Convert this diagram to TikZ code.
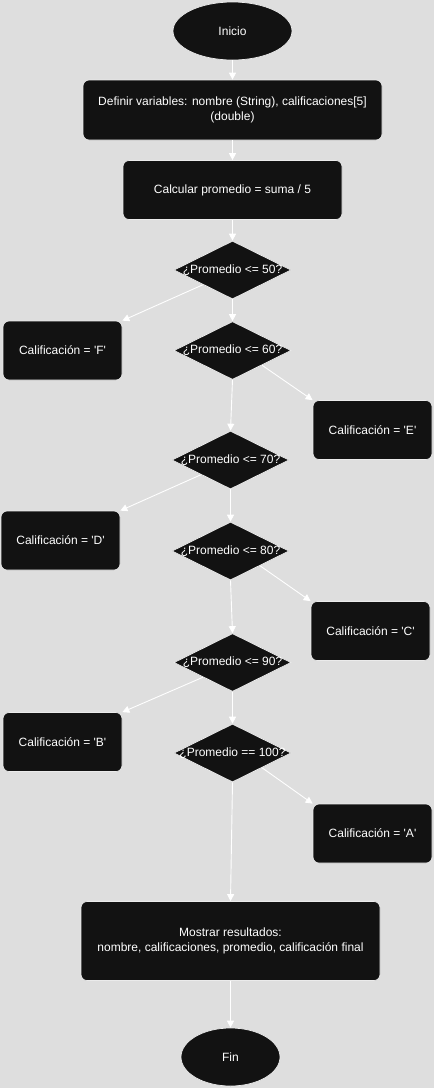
\documentclass[tikz,border=0pt]{standalone}
\usepackage{fontspec}
\newfontfamily\lsans{Liberation Sans}
\usetikzlibrary{shapes.geometric,arrows.meta}
\definecolor{bgc}{RGB}{222,222,222}
\definecolor{nodec}{RGB}{18,18,18}
\definecolor{edgec}{RGB}{235,235,235}
\begin{document}
\begin{tikzpicture}[x=1pt,y=-1pt,
  base/.style={fill=nodec,draw=edgec,line width=0.7pt,text=white,
    font=\lsans\fontsize{12}{15}\selectfont,align=center,inner sep=0pt},
  term/.style={base,ellipse,minimum width=#1,minimum height=58},
  proc/.style={base,rectangle,rounded corners=6pt,minimum height=59},
  grade/.style={proc,minimum width=119},
  dec/.style={base,diamond,minimum width=117,minimum height=58},
  conn/.style={draw=white,line width=0.9pt,-{Triangle[width=7pt,length=7pt]}}]
\fill[bgc] (0,0) rectangle (434,1088);
\useasboundingbox (0,0) rectangle (434,1088);

\node[term=119] (ini) at (232.5,31) {Inicio};
\node[proc,minimum width=299,minimum height=60] (def) at (232.5,110) {Definir variables: nombre (String), calificaciones[5]\\(double)};
\node[proc,minimum width=219] (calc) at (232.5,190) {Calcular promedio = suma / 5};

\node[dec] (d1) at (232.5,270) {\makebox[0pt]{¿Promedio <= 50?}};
\node[grade] (gF) at (62.5,350.5) {Calificación = 'F'};
\node[dec] (d2) at (232.5,350.5) {\makebox[0pt]{¿Promedio <= 60?}};
\node[grade] (gE) at (372.5,430) {Calificación = 'E'};
\node[dec] (d3) at (230.5,460) {\makebox[0pt]{¿Promedio <= 70?}};
\node[grade] (gD) at (60.5,540.5) {Calificación = 'D'};
\node[dec] (d4) at (230.5,551) {\makebox[0pt]{¿Promedio <= 80?}};
\node[grade] (gC) at (370.5,631) {Calificación = 'C'};
\node[dec] (d5) at (232.5,662.5) {\makebox[0pt]{¿Promedio <= 90?}};
\node[grade] (gB) at (62.5,742) {Calificación = 'B'};
\node[dec] (d6) at (232.5,753) {\makebox[0pt]{¿Promedio == 100?}};
\node[grade] (gA) at (372.5,833.5) {Calificación = 'A'};

\node[proc,minimum width=299,minimum height=79] (out) at (230.5,941) {Mostrar resultados:\\nombre, calificaciones, promedio, calificación final};
\node[term=99] (fin) at (230.5,1057) {Fin};

\draw[conn] (ini) -- (def);
\draw[conn] (def) -- (calc);
\draw[conn] (calc) -- (d1);
\draw[conn] (d1.south west) -- (gF.north east);
\draw[conn] (d1) -- (d2);
\draw[conn] (d2.south east) -- (gE.north west);
\draw[conn] (d2.south) -- (d3.north);
\draw[conn] (d3.south west) -- (gD.north east);
\draw[conn] (d3) -- (d4);
\draw[conn] (d4.south east) -- (gC.north west);
\draw[conn] (d4.south) -- (d5.north);
\draw[conn] (d5.south west) -- (gB.north east);
\draw[conn] (d5) -- (d6);
\draw[conn] (d6.south east) -- (gA.north west);
\draw[conn] (d6.south) -- (out.north);
\draw[conn] (out) -- (fin);
\end{tikzpicture}
\end{document}
